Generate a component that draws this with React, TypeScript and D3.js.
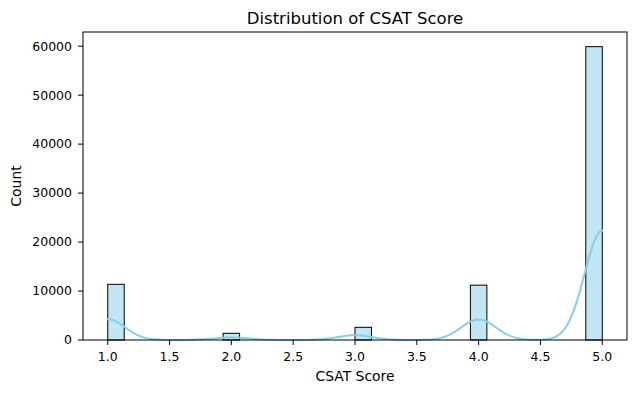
import React from 'react';
import * as d3 from 'd3';

// CSAT score counts (one bar per score value)
const scores = [1, 2, 3, 4, 5];
const counts = [11370, 1370, 2590, 11200, 59900];
const xTicks = [1.0, 1.5, 2.0, 2.5, 3.0, 3.5, 4.0, 4.5, 5.0];
const yTicks = [0, 10000, 20000, 30000, 40000, 50000, 60000];

const W = 635;
const H = 393;
const margin = { top: 32, right: 8, bottom: 53, left: 83 };
const nBins = 30;
const skyblue = '#87ceeb';
const font = 'DejaVu Sans, sans-serif';

export default function App() {
  const x = d3.scaleLinear().domain([0.8, 5.2]).range([margin.left, W - margin.right]);
  const y = d3.scaleLinear().domain([0, 59900 * 1.05]).range([H - margin.bottom, margin.top]);

  const binW = (5 - 1) / nBins;
  // each score falls in one of the 30 bins over [1, 5]
  const bars = scores.map((s, i) => {
    const k = Math.min(nBins - 1, Math.floor((s - 1) / binW + 1e-9));
    return { x0: 1 + k * binW, x1: 1 + (k + 1) * binW, n: counts[i] };
  });

  // gaussian KDE (Scott bandwidth), scaled to counts like seaborn
  const n = d3.sum(counts);
  const mean = d3.sum(scores, (s, i) => s * counts[i]) / n;
  const variance = d3.sum(scores, (s, i) => counts[i] * (s - mean) ** 2) / (n - 1);
  const bw = Math.sqrt(variance) * Math.pow(n, -1 / 5);
  const grid = d3.range(200).map(i => 1 + (4 * i) / 199);
  const kde = grid.map(g => {
    const dens = d3.sum(scores, (s, i) => counts[i] * Math.exp(-0.5 * ((g - s) / bw) ** 2)) / (n * bw * Math.sqrt(2 * Math.PI));
    return [g, dens * n * binW] as [number, number];
  });
  const line = d3.line<[number, number]>().x(d => x(d[0])).y(d => y(d[1]));

  const y0 = H - margin.bottom;
  const cx = (margin.left + W - margin.right) / 2;

  return (
    <div style={{ position: 'absolute', left: 0, top: 0 }}>
      <svg width={W} height={H} style={{ display: 'block', background: '#fff' }} fontFamily={font}>
        <g>
          {bars.map((b, i) => (
            <rect key={i} x={x(b.x0)} y={y(b.n)} width={x(b.x1) - x(b.x0)} height={y0 - y(b.n)}
              fill={skyblue} fillOpacity={0.5} stroke="#000" strokeWidth={1} />
          ))}
        </g>
        <path d={line(kde) || ''} fill="none" stroke={skyblue} strokeWidth={2} strokeLinecap="round" />
        <rect x={margin.left} y={margin.top} width={W - margin.right - margin.left} height={y0 - margin.top}
          fill="none" stroke="#000" strokeWidth={1} />
        {xTicks.map(t => (
          <g key={t} transform={`translate(${x(t)},${y0})`}>
            <line y2={5} stroke="#000" />
            <text y={20.5} textAnchor="middle" fontSize={12.5} fill="#000">{t.toFixed(1)}</text>
          </g>
        ))}
        {yTicks.map(t => (
          <g key={t} transform={`translate(${margin.left},${y(t)})`}>
            <line x2={-5} stroke="#000" />
            <text x={-11} dy="0.35em" textAnchor="end" fontSize={12.5} fill="#000">{t}</text>
          </g>
        ))}
        <text x={cx} y={381} textAnchor="middle" fontSize={13.9} fill="#000">CSAT Score</text>
        <text transform={`translate(21,${(margin.top + y0) / 2}) rotate(-90)`} textAnchor="middle" fontSize={13.9} fill="#000">Count</text>
        <text x={cx} y={24} textAnchor="middle" fontSize={16.5} fill="#000">Distribution of CSAT Score</text>
      </svg>
    </div>
  );
}
